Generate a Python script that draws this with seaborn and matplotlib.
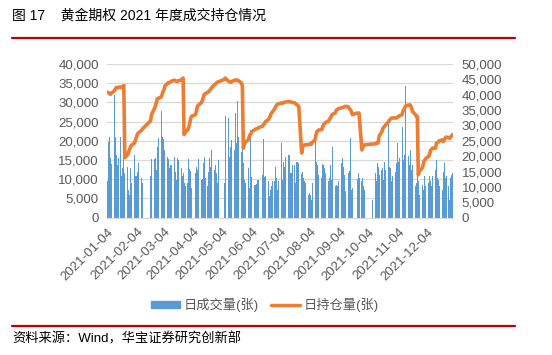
import pandas as pd
import numpy as np
import matplotlib
matplotlib.use("Agg")
from matplotlib import pyplot as plt
from matplotlib.patches import Patch
from matplotlib.lines import Line2D
from matplotlib.ticker import FuncFormatter, MultipleLocator
import seaborn as sns

# trading-day volume per month (contracts)
vol_jan = [9400, 19800, 21100, 15500, 14000, 32000, 21100, 16300, 13700, 15500,
           21100, 10900, 12900, 23700, 11700, 13300, 7200, 5900, 12900, 9000]
vol_feb = [16300, 10900, 10700, 11800, 14200, 10400, 8100, 9100, 10900, 15300,
           15300, 15500, 12300, 18300, 20700]
vol_mar = [27700, 21100, 11100, 20400, 17700, 15900, 15200, 12900, 13700, 13700,
           15700, 12000, 9800, 15500, 15000, 13000, 10700, 11700, 9000, 8300,
           9100, 15300, 12700]
vol_apr = [12200, 7600, 11600, 13300, 12400, 15200, 9800, 10000, 14300, 15900,
           10300, 8100, 12000, 15500, 13300, 17700, 12400, 13700, 11600, 9000, 15000]
vol_may = [9000, 26500, 12900, 25900, 15900, 18500, 20300, 17700, 27200, 19400,
           30300, 21100, 17200, 26800, 14200, 9800, 9000, 13000]
vol_jun = [7600, 9000, 22900, 10500, 8500, 8500, 8800, 9700, 9800, 11100,
           20400, 10500, 10800, 9600, 5500, 7200, 8300, 9400, 9400, 13300, 10300]
vol_jul = [7200, 9400, 19400, 9700, 14600, 13300, 15900, 16200, 16300, 11600,
           11600, 13700, 13700, 9000, 14600, 14600, 14200, 11400, 12000, 10300,
           9400, 9000]
vol_aug = [5900, 6300, 5900, 4600, 9000, 8100, 20300, 14600, 13700, 11100,
           10300, 14000, 13700, 12900, 11600, 9400, 10300, 13700, 9800, 18500,
           8100, 8500]
vol_sep = [8100, 7700, 9400, 14200, 15500, 13300, 11100, 6800, 11600, 12200,
           20700, 7200, 7700, 10000, 11600, 10300, 9400, 10300, 8100, 7200]
vol_oct = [4600, 11600, 9400, 14200, 13300, 11100, 12400, 12900, 9800, 14600,
           12400, 24600, 13300, 12900, 9400, 10700]
vol_nov = [11900, 14200, 19400, 14600, 15500, 17700, 23600, 15000, 16300, 34200,
           16000, 13700, 17700, 12400, 13700, 8100, 9000, 15500, 9400, 5900,
           8500, 7200]
vol_dec = [10700, 9000, 8100, 9000, 10700, 9400, 8100, 10700, 12400, 15000,
           10300, 9800, 8100, 7200, 12000, 14200, 10300, 10700, 8100, 4600,
           10300, 11100, 11600]

# open interest per month (contracts)
oi_jan = [40800, 40600, 40300, 40100, 40500, 41200, 41800, 42300, 42200, 42400,
          42500, 42300, 42600, 43000, 19500, 20500, 21400, 22200, 23000, 23600]
oi_feb = [24200, 25000, 26000, 27000, 27500, 28200, 28600, 29000, 31500, 33500,
          35500, 36200, 37500, 38600, 38800]
oi_mar = [39200, 40000, 41000, 41600, 42800, 43800, 43800, 44000, 44200, 44400,
          44700, 44500, 44300, 44300, 44500, 44700, 45100, 45400, 27000, 27600,
          28600, 29500, 30800]
oi_apr = [32400, 33000, 33500, 34800, 36200, 36600, 37300, 38000, 39000, 40000,
          40300, 40800, 41000, 41400, 41800, 42300, 43300, 43500, 43800, 44100, 44200]
oi_may = [44900, 45400, 44500, 44300, 44200, 44000, 44300, 44700, 44600, 44800,
          44700, 44500, 43800, 42700, 22600, 23800, 24500, 25300]
oi_jun = [26000, 27000, 27300, 28000, 28600, 28800, 28900, 29000, 29300, 29700,
          30200, 30500, 31200, 31800, 32300, 32900, 33800, 34200, 35500, 36200, 36700]
oi_jul = [36900, 37000, 37300, 37200, 37400, 37500, 37600, 37700, 37800, 37700,
          37600, 37500, 37300, 37000, 36700, 36500, 36200, 21000, 23200, 23400,
          23600, 23700]
oi_aug = [23700, 23900, 24000, 23800, 24500, 25300, 27000, 28000, 28300, 28500,
          28600, 29500, 30200, 30600, 31000, 31300, 32000, 32400, 33000, 33600,
          34000, 34800]
oi_sep = [35100, 35300, 35500, 35700, 35800, 36000, 36100, 36200, 36000, 35400,
          35100, 34500, 33500, 34000, 34000, 34000, 22000, 22800, 23400, 23700]
oi_oct = [23900, 24000, 24200, 24200, 24300, 26500, 28000, 29100, 29400, 29800,
          30200, 31200, 31800, 32100, 32400, 32400]
oi_nov = [32400, 32400, 32600, 32800, 33100, 33500, 34600, 35200, 35800, 36400,
          36600, 36700, 36400, 35600, 34500, 33500, 33000, 32900, 13900, 15000,
          16100, 17000]
oi_dec = [18300, 18800, 19300, 19900, 21000, 22000, 22300, 22600, 22600, 24200,
          24400, 24600, 25000, 25300, 24700, 25200, 25800, 26200, 26000, 25800,
          26300, 26600, 27000]

holidays = ["2021-02-11", "2021-02-12", "2021-02-15", "2021-02-16", "2021-02-17",
            "2021-04-05", "2021-05-03", "2021-05-04", "2021-05-05", "2021-06-14",
            "2021-09-20", "2021-09-21", "2021-10-01", "2021-10-04", "2021-10-05",
            "2021-10-06", "2021-10-07"]

volume = (vol_jan + vol_feb + vol_mar + vol_apr + vol_may + vol_jun + vol_jul
          + vol_aug + vol_sep + vol_oct + vol_nov + vol_dec)
open_int = (oi_jan + oi_feb + oi_mar + oi_apr + oi_may + oi_jun + oi_jul
            + oi_aug + oi_sep + oi_oct + oi_nov + oi_dec)

days = pd.bdate_range("2021-01-04", "2021-12-31")
days = days[~days.isin(pd.to_datetime(holidays))]
df = pd.DataFrame({"date": days, "vol": volume, "oi": open_int})

sns.set_style("white")
plt.rcParams["font.family"] = ["Liberation Sans", "Noto Sans CJK SC"]

gray = "#595959"
fig = plt.figure(figsize=(5.52, 3.55), dpi=100)
ax = fig.add_axes([0.194, 0.387, 0.627, 0.433])
ax.bar(df["date"], df["vol"], width=1.05, color="#5B9BD5", linewidth=0)
ax.set_ylim(0, 40000)
ax.yaxis.set_major_locator(MultipleLocator(5000))
ax.yaxis.set_major_formatter(FuncFormatter(lambda v, p: f"{v:,.0f}"))
ax.grid(axis="y", color="#D9D9D9", lw=0.9)
ax.set_axisbelow(True)

ax2 = ax.twinx()
sns.lineplot(data=df, x="date", y="oi", ax=ax2, color="#ED7D31", lw=2.6)
ax2.set_ylim(0, 50000)
ax2.yaxis.set_major_locator(MultipleLocator(5000))
ax2.yaxis.set_major_formatter(FuncFormatter(lambda v, p: f"{v:,.0f}"))

ax.set_xlim(pd.Timestamp("2021-01-03 12:00"), pd.Timestamp("2021-12-31 12:00"))
ticks = pd.date_range("2021-01-01", "2021-12-01", freq="MS") + pd.Timedelta(days=3)
ax.set_xticks(ticks)
ax.set_xticklabels([t.strftime("%Y-%m-%d") for t in ticks], rotation=45,
                   ha="right", rotation_mode="anchor")

for a in (ax, ax2):
    for s in a.spines.values():
        s.set_visible(False)
    a.set_xlabel("")
    a.set_ylabel("")
    a.tick_params(axis="y", length=0, labelsize=9.5, labelcolor=gray, pad=6)
ax.spines["bottom"].set_visible(True)
ax.spines["bottom"].set_color("#D9D9D9")
ax.tick_params(axis="x", length=4, color="#D9D9D9", labelsize=9.5,
               labelcolor=gray, pad=2)

handles = [Patch(color="#5B9BD5"), Line2D([], [], color="#ED7D31", lw=2.5)]
fig.legend(handles, ["日成交量(张)", "日持仓量(张)"], loc="center",
           bbox_to_anchor=(0.48, 0.14), ncol=2, frameon=False, fontsize=9.5,
           labelcolor=gray, handlelength=2.2, handleheight=0.5, columnspacing=0.9,
           handletextpad=0.3)

fig.text(0.022, 0.957, "图 17    黄金期权 2021 年度成交持仓情况", fontsize=10,
         va="center", ha="left", color="black")
fig.add_artist(Line2D([0.022, 0.933], [0.892, 0.892], color="#C00000", lw=1.6))
fig.add_artist(Line2D([0.022, 0.933], [0.083, 0.083], color="#C00000", lw=1.6))
fig.text(0.022, 0.046, "资料来源：Wind，华宝证券研究创新部", fontsize=9.5,
         va="center", ha="left", color="black")

fig.savefig("out.png", dpi=100)
